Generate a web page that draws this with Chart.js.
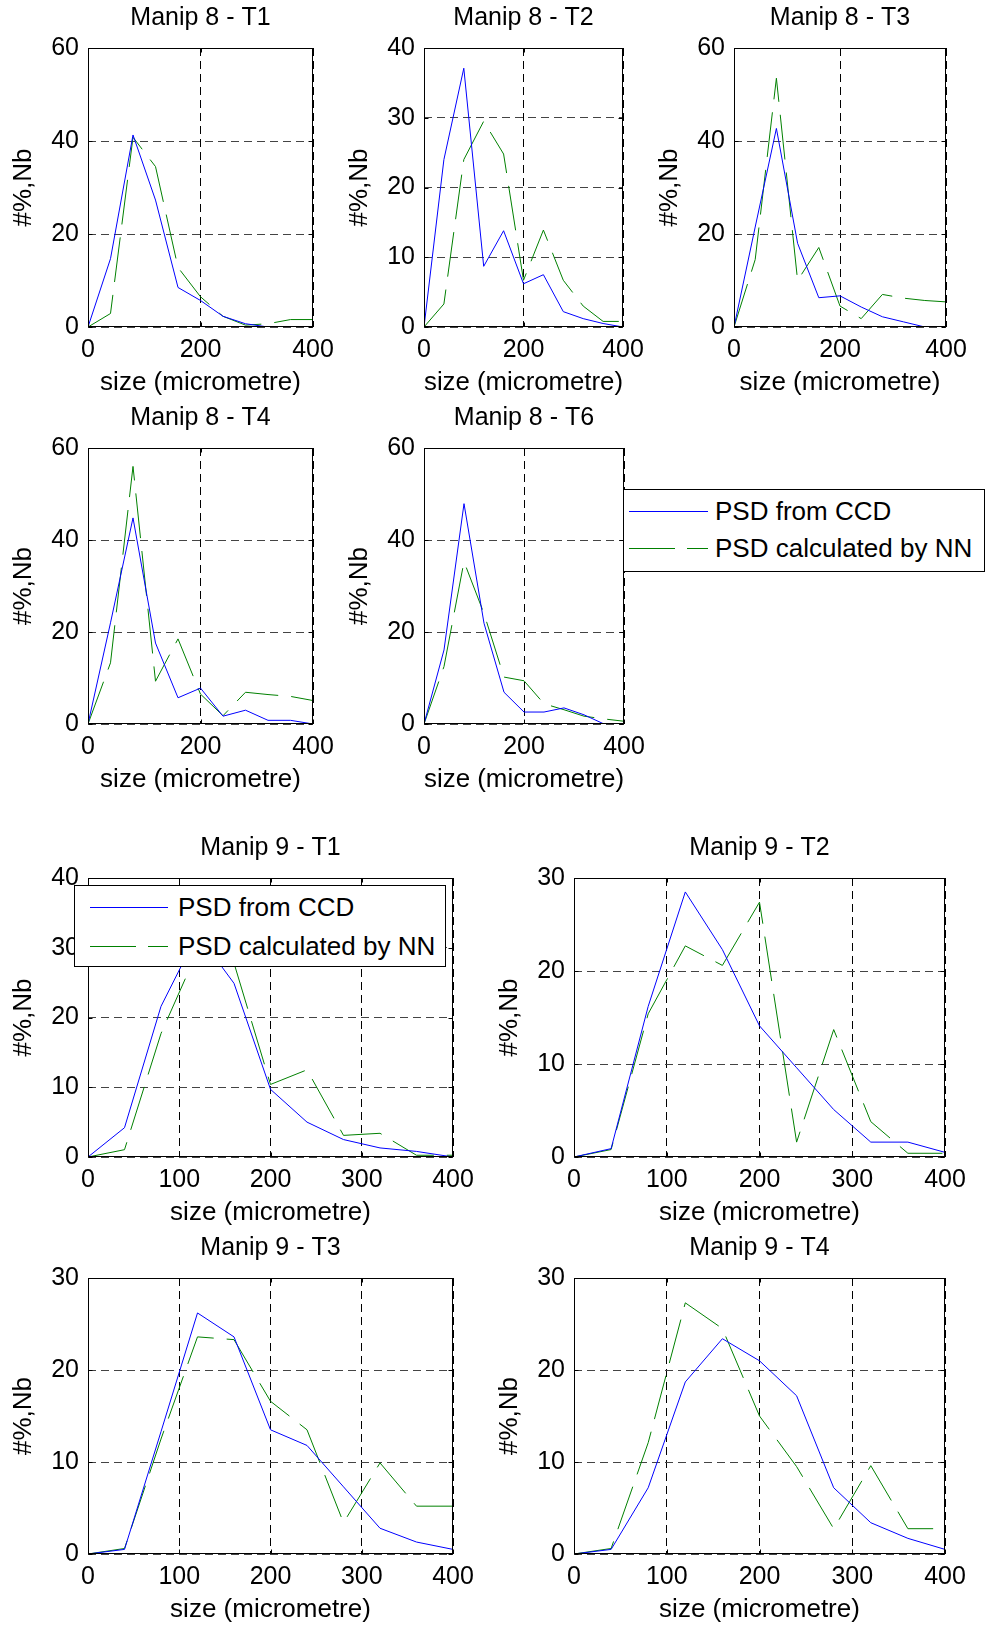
<!DOCTYPE html>
<html>
<head>
<meta charset="utf-8">
<script src="https://cdn.jsdelivr.net/npm/chart.js@4.4.1/dist/chart.umd.min.js"></script>
<style>
  html, body { margin: 0; padding: 0; background: #fff; }
  body { position: relative; width: 985px; height: 1625px; overflow: hidden; font-family: 'Liberation Sans', Arial, sans-serif; }
  canvas { position: absolute; }
  .legend { position: absolute; border: 1px solid #000; background: #fff; box-sizing: border-box; z-index: 5; }
  .legend .row { position: absolute; height: 30px; line-height: 30px; font-size: 26px; color: #000; white-space: nowrap; }
  .legend svg { position: absolute; }
</style>
</head>
<body>
<script>
// particle size classes (micrometre)
const sizes = [0, 40, 80, 120, 160, 200, 240, 280, 320, 360, 400]

const seriesLabels = ['PSD from CCD', 'PSD calculated by NN']
const xTitle = 'size (micrometre)'
const yTitle = '#%,Nb'

// Manip 8
const m8t1Ccd = [0, 14.7, 41.3, 27.3, 8.5, 5.7, 2.3, 0.7, 0, 0, 0]
const m8t1Nn = [0, 2.9, 40.8, 34.5, 12.8, 6.5, 2.3, 0.4, 0.7, 1.6, 1.6]
const m8t2Ccd = [0, 24.0, 37.1, 8.7, 13.8, 6.2, 7.5, 2.2, 1.2, 0.5, 0]
const m8t2Nn = [0, 3.3, 24.0, 29.5, 24.8, 6.7, 13.9, 6.7, 3.0, 0.8, 0.8]
const m8t3Ccd = [0, 21.5, 42.7, 18.0, 6.3, 6.7, 4.3, 2.2, 1.1, 0, 0]
const m8t3Nn = [0, 14.5, 53.5, 10.0, 17.1, 4.5, 1.8, 7.0, 6.2, 5.7, 5.4]
const m8t4Ccd = [0, 22.0, 44.8, 17.6, 5.7, 7.8, 1.7, 3.0, 0.8, 0.8, 0]
const m8t4Nn = [0, 13.3, 56.0, 9.3, 18.5, 6.5, 1.8, 6.9, 6.4, 6.0, 5.1]
const m8t6Ccd = [0, 16.1, 47.9, 21.9, 6.9, 2.6, 2.6, 3.5, 2.0, 0, 0]
const m8t6Nn = [0, 12.5, 35.3, 24.0, 10.2, 9.4, 4.4, 3.1, 1.7, 1.1, 0.6]

// Manip 9
const m9t1Ccd = [0, 4.2, 21.6, 32.0, 24.9, 9.7, 5.0, 2.5, 1.3, 0.8, 0]
const m9t1Nn = [0, 1.05, 17.7, 29.5, 27.8, 10.4, 12.5, 3.1, 3.4, 0.25, 0.25]
const m9t2Ccd = [0, 0.9, 16.2, 28.5, 22.3, 14.1, 9.6, 5.1, 1.6, 1.6, 0.5]
const m9t2Nn = [0, 0.8, 15.4, 22.7, 20.6, 27.4, 1.6, 13.7, 3.8, 0.4, 0.4]
const m9t3Ccd = [0, 0.5, 13.3, 26.2, 23.6, 13.5, 11.8, 7.3, 2.8, 1.3, 0.5]
const m9t3Nn = [0, 0.6, 12.5, 23.6, 23.3, 16.6, 13.5, 3.4, 9.9, 5.2, 5.2]
const m9t4Ccd = [0, 0.5, 7.2, 18.7, 23.4, 21.0, 17.2, 7.2, 3.4, 1.7, 0.5]
const m9t4Nn = [0, 0.6, 12.1, 27.3, 24.5, 15.0, 9.5, 2.75, 9.6, 2.75, 2.75]

const panels = [
  {title: 'Manip 8 - T1', ccd: m8t1Ccd, nn: m8t1Nn, yMax: 60, yStep: 20, xStep: 200},
  {title: 'Manip 8 - T2', ccd: m8t2Ccd, nn: m8t2Nn, yMax: 40, yStep: 10, xStep: 200},
  {title: 'Manip 8 - T3', ccd: m8t3Ccd, nn: m8t3Nn, yMax: 60, yStep: 20, xStep: 200},
  {title: 'Manip 8 - T4', ccd: m8t4Ccd, nn: m8t4Nn, yMax: 60, yStep: 20, xStep: 200},
  {title: 'Manip 8 - T6', ccd: m8t6Ccd, nn: m8t6Nn, yMax: 60, yStep: 20, xStep: 200},
  {title: 'Manip 9 - T1', ccd: m9t1Ccd, nn: m9t1Nn, yMax: 40, yStep: 10, xStep: 100},
  {title: 'Manip 9 - T2', ccd: m9t2Ccd, nn: m9t2Nn, yMax: 30, yStep: 10, xStep: 100},
  {title: 'Manip 9 - T3', ccd: m9t3Ccd, nn: m9t3Nn, yMax: 30, yStep: 10, xStep: 100},
  {title: 'Manip 9 - T4', ccd: m9t4Ccd, nn: m9t4Nn, yMax: 30, yStep: 10, xStep: 100}
]

// plot box of every panel on the page: left, top, right, bottom
const boxes = [
  [88, 48, 313, 327], [424, 48, 623, 327], [734, 48, 946, 327],
  [88, 448, 313, 724], [424, 448, 624, 724],
  [88, 878, 453, 1157], [574, 878, 945, 1157],
  [88, 1278, 453, 1554], [574, 1278, 945, 1554]
]

// legends: panel index, box and inner offsets
const legends = [
  {panel: 4, left: 623, top: 489, width: 362, height: 83, rows: [22, 59], lineX: 6, lineW: 79, textX: 92},
  {panel: 5, left: 74, top: 885, width: 372, height: 82, rows: [22, 61], lineX: 16, lineW: 78, textX: 104}
]

const Y_W = 88
const TITLE_H = 48
const X_H = 75
const PAD_R = 30
const FONT = "'Liberation Sans', Arial, sans-serif"

Chart.defaults.font.family = FONT
Chart.defaults.color = '#000'

// full box around the plot plus little inner ticks, like matlab
const boxPlugin = {
  id: 'box',
  afterDraw (chart) {
    const ctx = chart.ctx
    const a = chart.chartArea
    const l = Math.round(a.left) + 0.5
    const t = Math.round(a.top) + 0.5
    const r = Math.round(a.right) - 0.5
    const b = Math.round(a.bottom) - 0.5
    ctx.save()
    ctx.strokeStyle = '#000'
    ctx.lineWidth = 1
    ctx.setLineDash([])
    ctx.strokeRect(l, t, r - l, b - t)
    ctx.beginPath()
    chart.scales.x.ticks.forEach(function (tk) {
      let px = Math.round(chart.scales.x.getPixelForValue(tk.value)) + 0.5
      ctx.moveTo(px, b); ctx.lineTo(px, b - 4)
      ctx.moveTo(px, t); ctx.lineTo(px, t + 4)
    })
    chart.scales.y.ticks.forEach(function (tk) {
      let py = Math.round(chart.scales.y.getPixelForValue(tk.value)) + 0.5
      ctx.moveTo(l, py); ctx.lineTo(l + 4, py)
      ctx.moveTo(r, py); ctx.lineTo(r - 4, py)
    })
    ctx.stroke()
    ctx.restore()
  }
}

function points (values) {
  return sizes.map(function (s, i) { return {x: s, y: values[i]} })
}

let charts = []

panels.forEach(function (p, i) {
  let bx = boxes[i]
  let canvas = document.createElement('canvas')
  let w = (bx[2] - bx[0]) + Y_W + PAD_R
  let h = (bx[3] - bx[1]) + TITLE_H + X_H
  canvas.width = w
  canvas.height = h
  canvas.style.left = (bx[0] - Y_W) + 'px'
  canvas.style.top = (bx[1] - TITLE_H) + 'px'
  canvas.style.width = w + 'px'
  canvas.style.height = h + 'px'
  document.body.appendChild(canvas)

  let chart = new Chart(canvas.getContext('2d'), {
    type: 'line',
    data: {
      datasets: [
        {
          label: seriesLabels[0],
          data: points(p.ccd),
          borderColor: '#0000ff',
          borderWidth: 1,
          pointRadius: 0,
          tension: 0,
          fill: false
        },
        {
          label: seriesLabels[1],
          data: points(p.nn),
          borderColor: '#008000',
          borderWidth: 1,
          borderDash: [45, 13],
          pointRadius: 0,
          tension: 0,
          fill: false
        }
      ]
    },
    options: {
      responsive: false,
      animation: false,
      devicePixelRatio: 1,
      layout: {padding: {left: 0, top: 0, right: PAD_R, bottom: 0}},
      plugins: {
        legend: {display: false},
        tooltip: {enabled: false},
        title: {
          display: true,
          text: p.title,
          fullSize: false,
          color: '#000',
          font: {size: 25, weight: 'normal', family: FONT},
          padding: {top: 3, bottom: 15}
        }
      },
      scales: {
        x: {
          type: 'linear',
          min: 0,
          max: 400,
          ticks: {stepSize: p.xStep, padding: 8, font: {size: 25}, color: '#000', maxRotation: 0},
          grid: {color: '#000', lineWidth: 1, drawTicks: false},
          border: {display: false, dash: [8, 5]},
          title: {display: true, text: xTitle, font: {size: 26}, color: '#000', padding: {top: 0, bottom: 3.4}},
          afterFit: function (scale) { scale.height = X_H }
        },
        y: {
          type: 'linear',
          min: 0,
          max: p.yMax,
          ticks: {stepSize: p.yStep, padding: 9, font: {size: 25}, color: '#000'},
          grid: {color: '#444', lineWidth: 1, drawTicks: false},
          border: {display: false, dash: [8, 5]},
          title: {display: true, text: yTitle, font: {size: 26}, color: '#000', padding: {top: 8, bottom: 0}},
          afterFit: function (scale) { scale.width = Y_W }
        }
      }
    },
    plugins: [boxPlugin]
  })
  charts.push(chart)
})

// legend boxes built from the datasets of the panel they belong to
legends.forEach(function (lg) {
  let div = document.createElement('div')
  div.className = 'legend'
  div.style.left = lg.left + 'px'
  div.style.top = lg.top + 'px'
  div.style.width = lg.width + 'px'
  div.style.height = lg.height + 'px'
  charts[lg.panel].data.datasets.forEach(function (ds, k) {
    let cy = lg.rows[k] - 1
    let svgNS = 'http://www.w3.org/2000/svg'
    let svg = document.createElementNS(svgNS, 'svg')
    svg.setAttribute('width', lg.lineW)
    svg.setAttribute('height', 3)
    svg.style.left = (lg.lineX - 1) + 'px'
    svg.style.top = (cy - 1) + 'px'
    let line = document.createElementNS(svgNS, 'line')
    line.setAttribute('x1', 0)
    line.setAttribute('x2', lg.lineW)
    line.setAttribute('y1', 1.5)
    line.setAttribute('y2', 1.5)
    line.setAttribute('stroke', ds.borderColor)
    line.setAttribute('stroke-width', 1)
    if (ds.borderDash) line.setAttribute('stroke-dasharray', '46 12')
    svg.appendChild(line)
    div.appendChild(svg)

    let row = document.createElement('div')
    row.className = 'row'
    row.style.left = (lg.textX - 1) + 'px'
    row.style.top = (cy - 15) + 'px'
    row.textContent = ds.label
    div.appendChild(row)
  })
  document.body.appendChild(div)
})
</script>
</body>
</html>
